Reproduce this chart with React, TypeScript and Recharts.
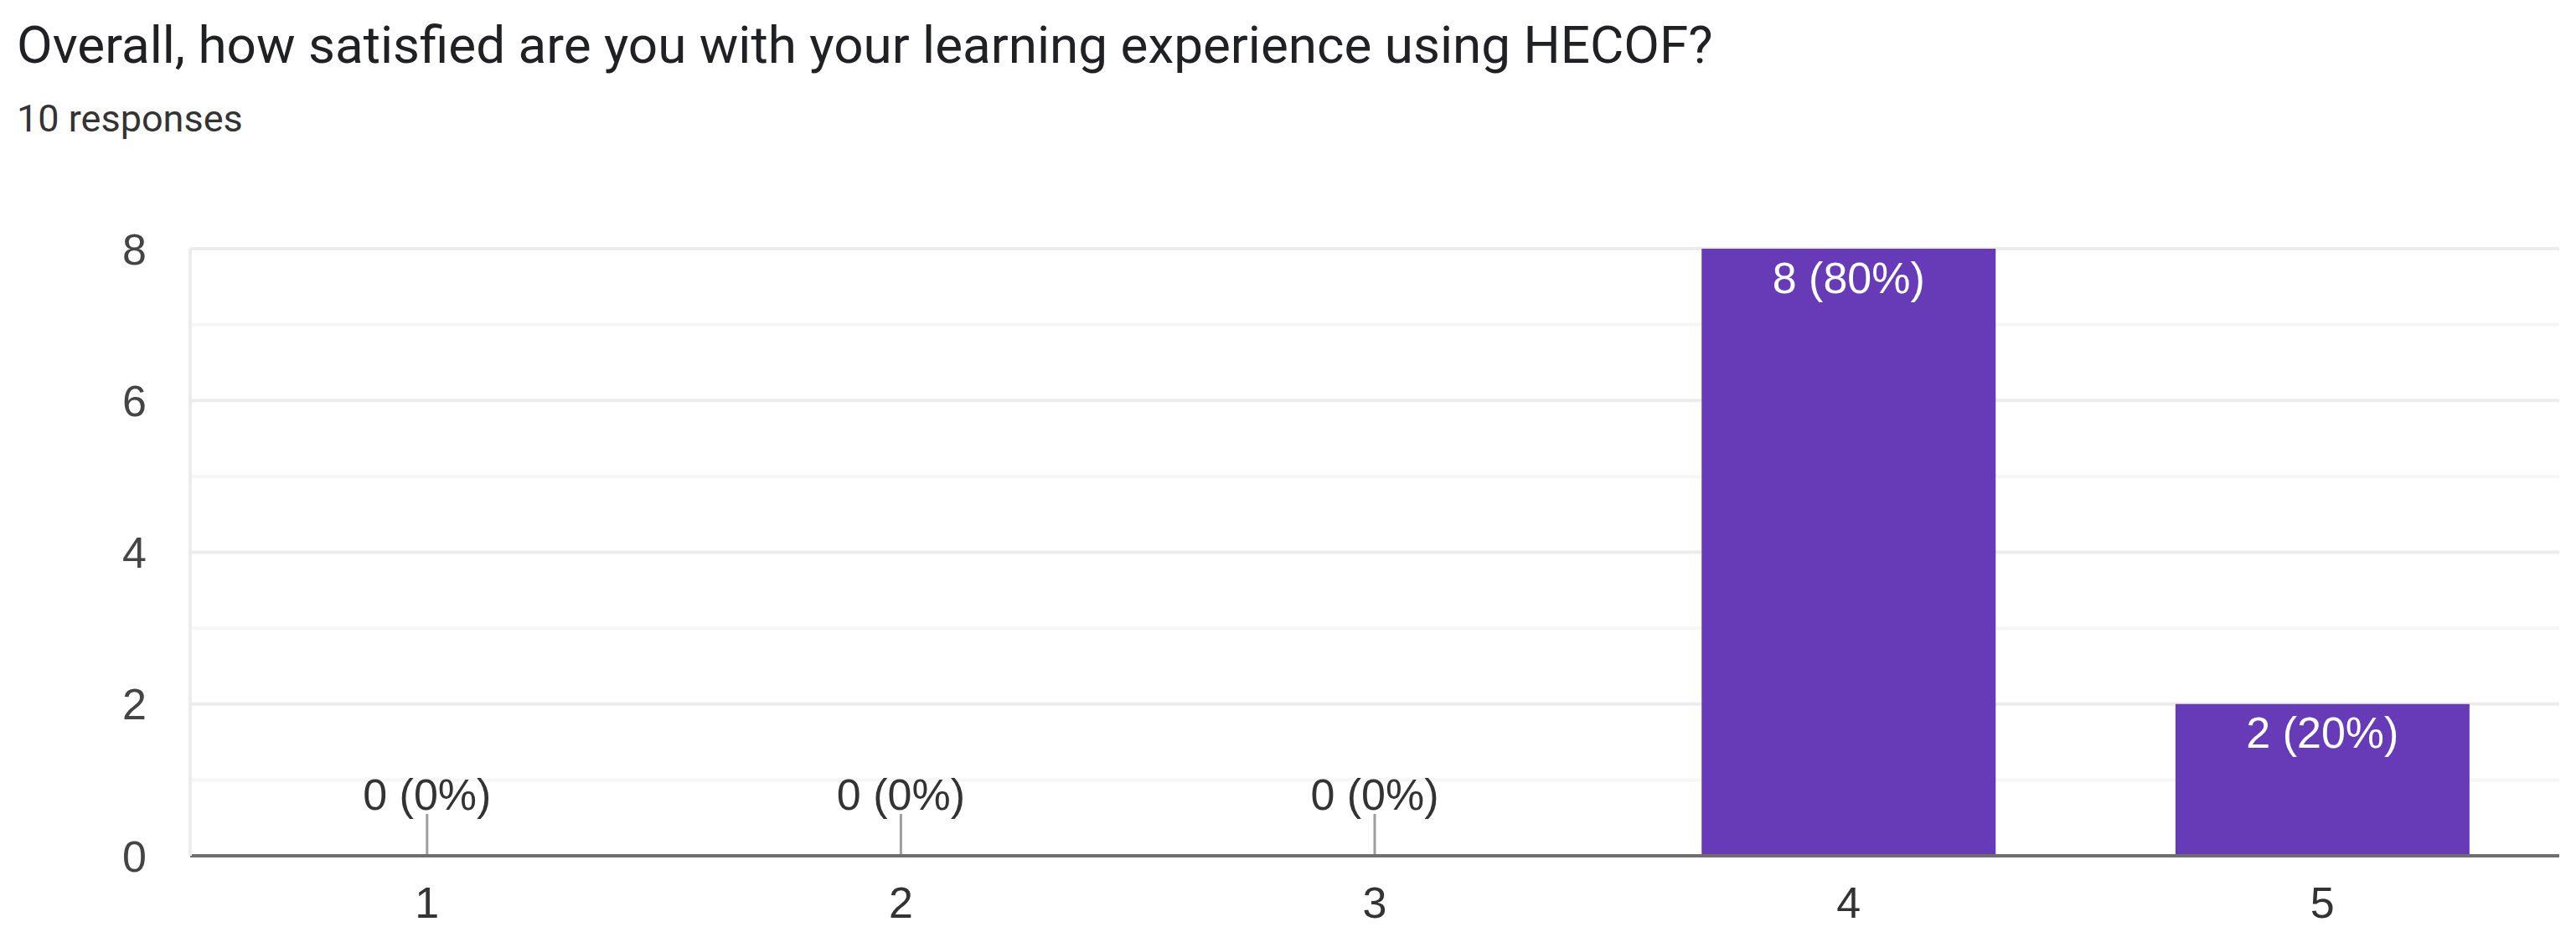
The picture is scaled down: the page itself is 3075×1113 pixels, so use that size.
import React from 'react';
import { BarChart, Bar, XAxis, YAxis, CartesianGrid, LabelList } from 'recharts';

const title = 'Overall, how satisfied are you with your learning experience using HECOF?';
const subtitle = '10 responses';
const categories = ['1', '2', '3', '4', '5'];
const counts = [0, 0, 0, 8, 2];
const percents = [0, 0, 0, 80, 20];
const yTicks = [0, 1, 2, 3, 4, 5, 6, 7, 8];
const labeledTicks = [0, 2, 4, 6, 8];

const data = categories.map((c, i) => ({ name: c, count: counts[i], pct: percents[i] }));

const CHART_FONT = '"Liberation Sans", Arial, sans-serif';
const FS = 52;

const XTick = (props: any) => {
  const { x, y, payload } = props;
  const i = categories.indexOf(String(payload.value));
  const isZero = i >= 0 && counts[i] === 0;
  return (
    <g>
      {isZero && (
        <g>
          <line x1={x} x2={x} y1={y - 50} y2={y - 2} stroke="#9e9e9e" strokeWidth={3} />
          <text x={x} y={y - 74 + FS * 0.358} textAnchor="middle" fontFamily={CHART_FONT} fontSize={FS} fill="#333">
            {`${counts[i]} (${percents[i]}%)`}
          </text>
        </g>
      )}
      <text x={x} y={y + 55 + FS * 0.358} textAnchor="middle" fontFamily={CHART_FONT} fontSize={FS} fill="#333">
        {payload.value}
      </text>
    </g>
  );
};

const YTick = (props: any) => {
  const { x, y, payload } = props;
  if (!labeledTicks.includes(Number(payload.value))) return <g />;
  return (
    <text x={x - 52} y={y + FS * 0.358} textAnchor="end" fontFamily={CHART_FONT} fontSize={FS} fill="#444">
      {payload.value}
    </text>
  );
};

const GridLine = (props: any) => {
  const { x1, x2, y1, y2, index } = props;
  const major = index % 2 === 0;
  return (
    <line
      key={`g-${index}`}
      x1={x1}
      x2={x2}
      y1={y1}
      y2={y2}
      stroke={major ? '#ececec' : '#f6f6f6'}
      strokeWidth={4}
    />
  );
};

const BarLabel = (props: any) => {
  const { x, y, width, value } = props;
  const v = Number(value);
  if (!v) return null;
  const i = counts.indexOf(v);
  const text = `${v} (${percents[i]}%)`;
  const cx = x + width / 2;
  return (
    <text x={cx} y={y + 34 + FS * 0.358} textAnchor="middle" fontFamily={CHART_FONT} fontSize={FS} fill="#ffffff">
      {text}
    </text>
  );
};

export default function App() {
  return (
    <div style={{ position: 'absolute', left: 0, top: 0, width: 3075, height: 1113, background: '#fff' }}>
      <svg width={3075} height={200} style={{ position: 'absolute', left: 0, top: 0 }}>
        <text x={20} y={75} fontFamily="Roboto, sans-serif" fontSize={62} fill="#202124">
          {title}
        </text>
        <text x={20} y={157} fontFamily="Roboto, sans-serif" fontSize={45} fill="#333">
          {subtitle}
        </text>
      </svg>
      <div style={{ position: 'absolute', left: 0, top: 0 }}>
        <BarChart
          width={3075}
          height={1113}
          data={data}
          margin={{ top: 297, right: 20, bottom: 61, left: 167 }}
          barCategoryGap="19%"
        >
          <CartesianGrid yAxisId="left" vertical={false} horizontal={(p: any) => <GridLine {...p} />} />
          <XAxis
            dataKey="name"
            axisLine={{ stroke: '#6e6e6e', strokeWidth: 4 }}
            tickLine={false}
            tickSize={0}
            tickMargin={0}
            tick={<XTick />}
            interval={0}
            height={30}
          />
          <YAxis
            yAxisId="left"
            domain={[0, 8]}
            ticks={yTicks}
            interval={0}
            axisLine={{ stroke: '#ececec', strokeWidth: 4 }}
            tickLine={false}
            tickSize={0}
            tickMargin={0}
            tick={<YTick />}
            width={60}
          />
          <YAxis
            yAxisId="right"
            orientation="right"
            domain={[0, 8]}
            ticks={labeledTicks}
            axisLine={{ stroke: '#ececec', strokeWidth: 4 }}
            tick={false}
            tickLine={false}
            width={0}
          />
          <Bar yAxisId="left" dataKey="count" fill="#673ab7" isAnimationActive={false}>
            <LabelList dataKey="count" content={<BarLabel />} />
          </Bar>
        </BarChart>
      </div>
    </div>
  );
}
